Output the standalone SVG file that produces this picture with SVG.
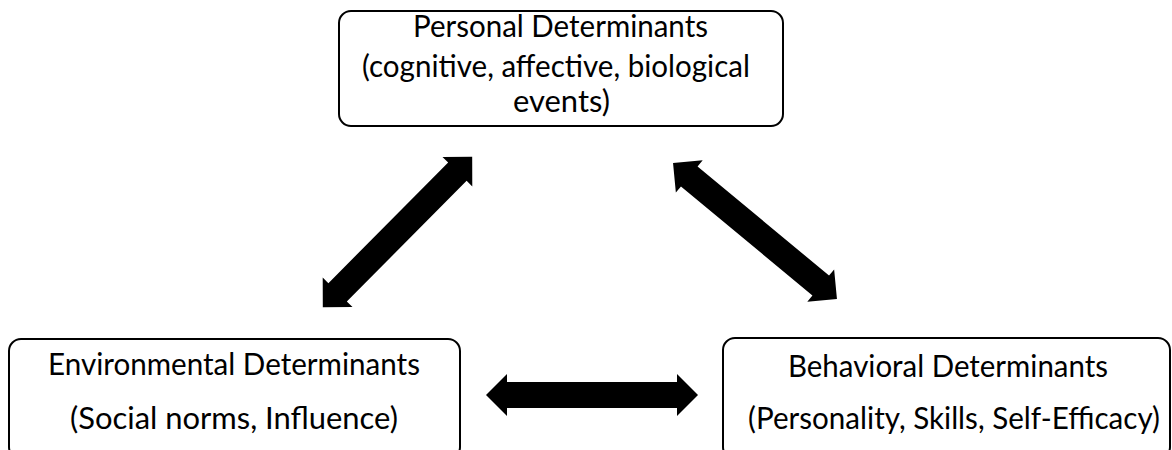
<svg xmlns="http://www.w3.org/2000/svg" width="1172" height="450" viewBox="0 0 1172 450">
<style>
.box{fill:#fff;stroke:#000;stroke-width:2}
.t{font-family:Lato,"Open Sans","Liberation Sans",sans-serif;font-size:31px;fill:#000}
.arr{fill:#000}
</style>
<defs>
<path id="dbl" d="M-106,0 L-85,-21 L-85,-13 L85,-13 L85,-21 L106,0 L85,21 L85,13 L-85,13 L-85,21 Z"/>
</defs>
<rect width="1172" height="450" fill="#fff"/>
<g id="personal">
<rect class="box" x="339" y="11" width="444" height="115" rx="12"/>
<text class="t" x="413" y="37" textLength="295" lengthAdjust="spacingAndGlyphs">Personal Determinants</text>
<text class="t" x="362" y="77" textLength="388" lengthAdjust="spacingAndGlyphs">(cognitive, affective, biological</text>
<text class="t" x="513" y="112" textLength="97" lengthAdjust="spacingAndGlyphs">events)</text>
</g>
<g id="environmental">
<rect class="box" x="9" y="339" width="451" height="120" rx="12"/>
<text class="t" x="48" y="375" textLength="372" lengthAdjust="spacingAndGlyphs">Environmental Determinants</text>
<text class="t" x="70" y="429" textLength="328" lengthAdjust="spacingAndGlyphs">(Social norms, Influence)</text>
</g>
<g id="behavioral">
<rect class="box" x="723" y="338" width="447" height="121" rx="12"/>
<text class="t" x="788" y="377" textLength="320" lengthAdjust="spacingAndGlyphs">Behavioral Determinants</text>
<text class="t" x="748" y="429" style="font-size:30px" textLength="412" lengthAdjust="spacingAndGlyphs">(Personality, Skills, Self-Efficacy)</text>
</g>
<g id="connectors" class="arr">
<use href="#dbl" transform="translate(397.5,232) rotate(-45.2)"/>
<use href="#dbl" transform="translate(755,231) rotate(39.7) scale(1.005,1)"/>
<use href="#dbl" transform="translate(592,395)"/>
</g>
</svg>
